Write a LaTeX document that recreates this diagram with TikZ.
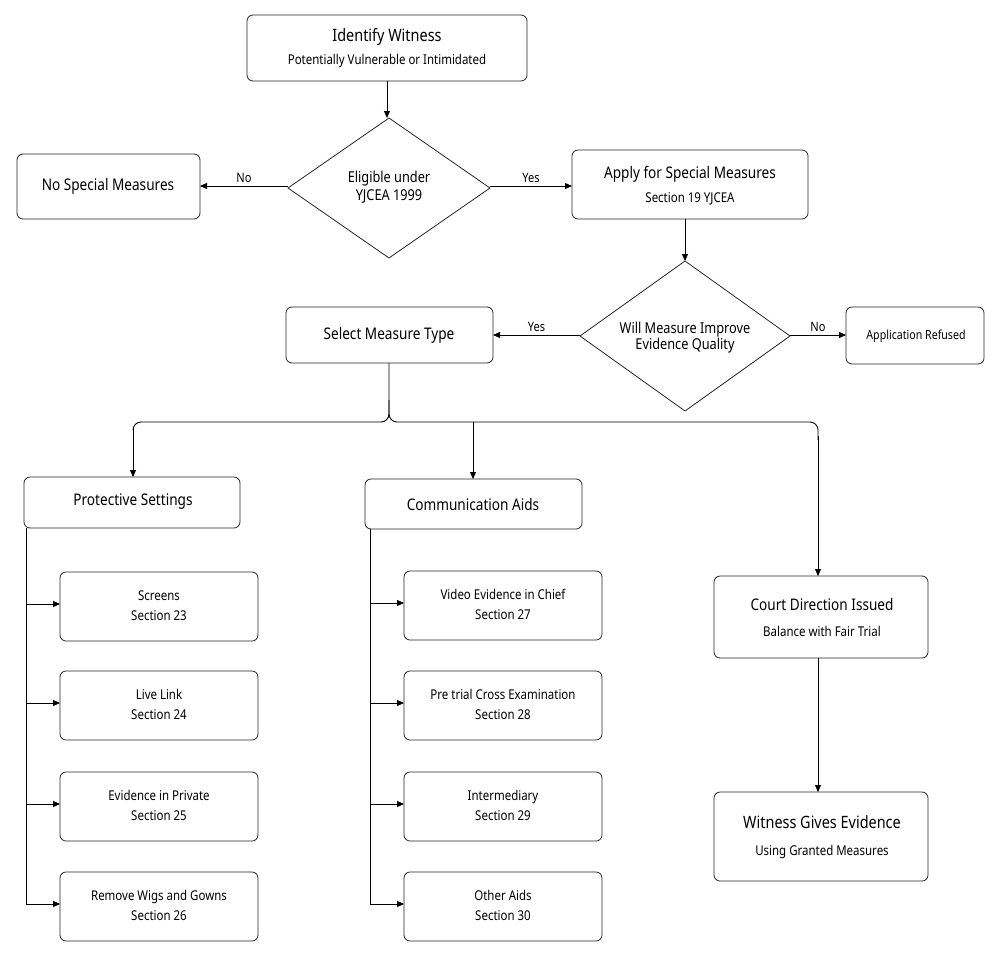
\documentclass[tikz,border=0pt]{standalone}
\usepackage{fontspec}
\setmainfont{Noto Sans}
\usetikzlibrary{shapes.geometric,arrows.meta}
\begin{document}
\begin{tikzpicture}[x=1pt,y=-1pt,
  box/.style={draw=black!85,line width=0.8pt,rounded corners=6pt,fill=white},
  dia/.style={draw=black!85,line width=0.8pt,fill=white},
  arr/.style={-{Triangle[length=7pt,width=6pt]},line width=0.9pt},
  ln/.style={line width=0.9pt},
  t/.style={font=\fontsize{15}{18}\selectfont\bfseries\addfontfeatures{FakeStretch=0.85}},
  s/.style={font=\fontsize{13.5}{17}\selectfont\addfontfeatures{FakeStretch=0.85}},
  lab/.style={font=\fontsize{13}{15}\selectfont\addfontfeatures{FakeStretch=0.85}}]
\useasboundingbox (0,0) rectangle (1000,961);
\fill[white] (0,0) rectangle (1000,961);
% boxes
\draw[box] (247,15) rectangle (527,81); \node[t,font=\fontsize{17}{20}\selectfont\bfseries\addfontfeatures{FakeStretch=0.85}] (idt) at (387,37) {Identify Witness};
\node[s] at (387,61) {Potentially Vulnerable or Intimidated};
\coordinate (id) at (387,81);
\draw[dia] (389,118) -- (490,188) -- (389,258) -- (288,188) -- cycle;
\node[t] (el) at (389,188) {\begin{tabular}{c}Eligible under\\YJCEA 1999\end{tabular}};
\draw[box] (17,154) rectangle (200,219); \node[t,font=\fontsize{16}{19}\selectfont\bfseries\addfontfeatures{FakeStretch=0.85}] (nsm) at (108,186) {No Special Measures};
\draw[box] (572,150) rectangle (808,219); \node[t,font=\fontsize{16}{19}\selectfont\bfseries\addfontfeatures{FakeStretch=0.85}] (ap) at (690,174) {Apply for Special Measures};
\node[s] at (690,199) {Section 19 YJCEA};
\draw[dia] (685,261) -- (790,336) -- (685,411) -- (580,336) -- cycle;
\node[t] (wm) at (685,338) {\begin{tabular}{c}Will Measure Improve\\[-2pt]Evidence Quality\end{tabular}};
\draw[box] (286,307) rectangle (493,363); \node[t,font=\fontsize{16}{19}\selectfont\bfseries\addfontfeatures{FakeStretch=0.85}] (smt) at (389,335) {Select Measure Type};
\draw[box] (846,307) rectangle (984,364); \node[t,font=\fontsize{12.5}{15}\selectfont\bfseries\addfontfeatures{FakeStretch=0.85}] (ar) at (916,336) {Application Refused};
\draw[box] (24,477) rectangle (240,528); \node[t,font=\fontsize{16}{19}\selectfont\bfseries\addfontfeatures{FakeStretch=0.85}] (ps) at (133,502) {Protective Settings};
\draw[box] (365,479) rectangle (582,529); \node[t,font=\fontsize{16}{19}\selectfont\bfseries\addfontfeatures{FakeStretch=0.85}] (ca) at (473,504) {Communication Aids};
\draw[box] (714,576) rectangle (928,658); \node[t,font=\fontsize{16}{19}\selectfont\bfseries\addfontfeatures{FakeStretch=0.85}] (cd) at (822,604) {Court Direction Issued};
\node[s] at (822,631) {Balance with Fair Trial};
\draw[box] (714,792) rectangle (928,881); \node[t,font=\fontsize{17}{20}\selectfont\bfseries\addfontfeatures{FakeStretch=0.85}] (wg) at (822,822) {Witness Gives Evidence};
\node[s] at (822,852) {Using Granted Measures};
% sub items
\foreach \y/\a/\b [count=\i] in {572/Screens/Section 23,671/Live Link/Section 24,772/Evidence in Private/Section 25,872/Remove Wigs and Gowns/Section 26}{
  \draw[box] (60,\y) rectangle (258,\y+69);
  \node[s] (L\i) at (159,\y+35) {\begin{tabular}{c}\a\\[3pt]\b\end{tabular}};
  \draw[arr] (26,\y+32) -- (60,\y+32);
}
\foreach \y/\a/\b [count=\i] in {571/Video Evidence in Chief/Section 27,671/Pre trial Cross Examination/Section 28,772/Intermediary/Section 29,872/Other Aids/Section 30}{
  \draw[box] (404,\y) rectangle (602,\y+69);
  \node[s] (M\i) at (503,\y+35) {\begin{tabular}{c}\a\\[3pt]\b\end{tabular}};
  \draw[arr] (370,\y+32) -- (404,\y+32);
}
\draw[ln] (26,528) -- (26,904);
\draw[ln] (370,529) -- (370,904);
% connectors
\draw[arr] (387,81) -- (387,118);
\draw[arr] (288,186) -- (200,186) node[lab,midway,above] {No};
\draw[arr] (490,186) -- (572,186) node[lab,midway,above] {Yes};
\draw[arr] (685,219) -- (685,261);
\draw[arr] (580,335) -- (493,335) node[lab,midway,above] {Yes};
\draw[arr] (790,335) -- (846,335) node[lab,midway,above] {No};
\draw[ln,rounded corners=8pt] (389,363) -- (389,422) -- (133,422) -- (133,430);
\draw[arr] (133,428) -- (133,477);
\draw[ln,rounded corners=8pt] (389,400) -- (389,422) -- (818,422) -- (818,440);
\draw[arr] (818,436) -- (818,576);
\draw[arr] (473,422) -- (473,479);
\draw[arr] (818,658) -- (818,792);
\end{tikzpicture}
\end{document}
